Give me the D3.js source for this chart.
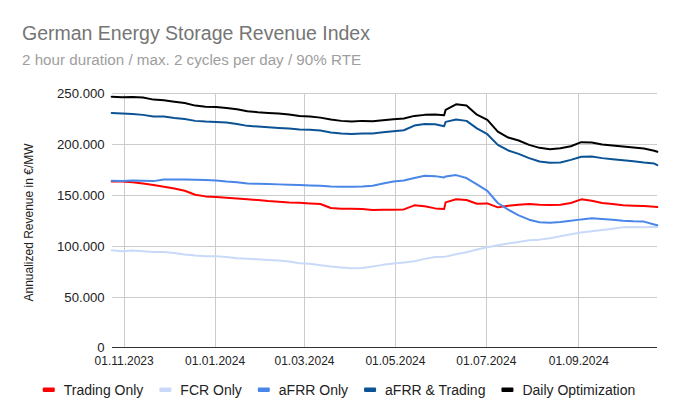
<!DOCTYPE html>
<html>
<head>
<meta charset="utf-8">
<script src="https://cdn.jsdelivr.net/npm/d3@7"></script>
<style>
  html, body { margin: 0; padding: 0; background: #fff; }
  svg { display: block; font-family: "Liberation Sans", Arial, sans-serif; }
</style>
</head>
<body>
<svg id="chart" width="678" height="419"></svg>
<script>
const dates = ["2023-10-24","2023-10-31","2023-11-07","2023-11-14","2023-11-21","2023-11-28","2023-12-05","2023-12-12","2023-12-19","2023-12-26",
"2024-01-02","2024-01-09","2024-01-16","2024-01-23","2024-01-30","2024-02-06","2024-02-13","2024-02-20","2024-02-27","2024-03-05",
"2024-03-12","2024-03-19","2024-03-26","2024-04-02","2024-04-09","2024-04-16","2024-04-23","2024-04-30","2024-05-07","2024-05-14",
"2024-05-21","2024-05-28","2024-06-03","2024-06-04","2024-06-11","2024-06-18","2024-06-25","2024-07-02","2024-07-09","2024-07-16",
"2024-07-23","2024-07-30","2024-08-06","2024-08-13","2024-08-20","2024-08-27","2024-09-03","2024-09-10","2024-09-17","2024-09-24",
"2024-10-01","2024-10-08","2024-10-15","2024-10-22","2024-10-24"];

// values in thousand €/MW
const tradingOnly = [163.4,163.4,162.7,161.4,159.8,158.2,156.5,154.2,150.3,148.7,
148.0,147.4,146.7,145.8,145.1,144.1,143.5,142.8,142.5,141.8,
141.2,137.3,136.6,136.6,136.3,135.3,135.6,135.6,135.9,139.9,
138.9,136.9,136.3,142.8,145.8,145.1,141.5,141.8,137.9,139.5,
140.5,141.2,140.5,140.2,140.5,142.2,145.8,144.4,142.2,141.2,
139.9,139.5,139.2,138.5,138.2];

const fcrOnly = [95.8,94.8,95.4,94.8,94.1,94.1,93.1,91.5,90.5,89.9,
89.9,89.2,87.9,87.3,86.9,86.3,85.6,84.6,83.0,82.4,
81.0,79.7,78.8,78.1,78.4,79.7,81.4,82.7,83.7,85.0,
87.3,89.2,89.4,89.5,91.8,93.8,96.5,98.7,100.7,102.3,
103.9,105.6,106.2,107.5,109.5,111.4,113.1,114.4,115.7,117.0,
118.3,118.6,118.3,118.6,118.6];

const afrrOnly = [164.1,163.7,164.4,164.1,163.7,165.4,165.4,165.4,165.0,164.7,
164.4,163.4,162.7,161.4,161.1,160.8,160.5,160.1,159.8,159.5,
159.2,158.5,158.2,158.2,158.5,159.2,161.4,163.4,164.4,166.7,
169.0,168.6,167.3,168.3,169.6,166.7,160.5,154.2,142.2,135.6,
130.1,125.8,123.2,122.9,123.5,124.8,126.1,127.1,126.5,125.8,
124.8,124.2,123.9,121.0,120.3];

const afrrTrading = [230.7,230.1,229.7,228.8,227.1,227.1,225.8,224.8,222.9,222.2,
221.9,221.2,219.9,218.0,217.3,216.7,216.0,215.4,214.4,214.1,
213.4,211.4,210.5,210.1,210.5,210.5,211.8,212.7,213.7,218.3,
219.9,219.6,217.6,221.9,224.2,222.9,215.5,209.8,199.3,193.8,
190.5,186.3,183.0,181.7,182.0,184.6,187.6,187.9,186.3,185.3,
184.3,183.3,182.0,181.0,179.4];

const dailyOpt = [246.7,246.1,246.4,245.8,243.8,243.1,241.8,240.5,237.9,236.9,
236.6,235.6,234.3,232.4,231.4,230.7,230.1,229.1,227.8,227.1,
226.1,224.2,222.9,222.2,222.9,222.5,223.5,224.5,225.2,227.8,
228.8,229.1,228.4,233.7,239.2,237.9,229.0,223.9,212.4,206.5,
203.6,199.3,196.4,195.1,196.1,198.0,202.0,201.6,199.7,198.7,
197.7,196.7,195.8,193.5,192.5];

const seriesNames = ["Trading Only","FCR Only","aFRR Only","aFRR & Trading","Daily Optimization"];
const seriesValues = [tradingOnly, fcrOnly, afrrOnly, afrrTrading, dailyOpt];
const seriesColors = ["#ff0000","#c9daf8","#4a86e8","#0b5394","#000000"];

const xTickDates = ["2023-11-01","2024-01-01","2024-03-01","2024-05-01","2024-07-01","2024-09-01"];
const yTicks = [0,50,100,150,200,250];
const domainStart = "2023-10-24", domainEnd = "2024-10-24";

(function () {
const parse = d3.utcParse("%Y-%m-%d");
const fmtDate = d3.utcFormat("%d.%m.%Y");
const fmtY = v => v === 0 ? "0" : d3.format(",")(v * 1000).replace(/,/g, ".");

const svg = d3.select("#chart");
const pL = 111.7, pR = 657.3, pT = 93.3, pB = 347.7;

const x = d3.scaleUtc().domain([parse(domainStart), parse(domainEnd)]).range([pL, pR]);
const y = d3.scaleLinear().domain([0, 250]).range([pB, pT]);

// Title
svg.append("text").attr("x", 22).attr("y", 39.5)
  .attr("font-size", 19.5).attr("fill", "#757575").text("German Energy Storage Revenue Index");
svg.append("text").attr("x", 22).attr("y", 65)
  .attr("font-size", 15.2).attr("fill", "#9e9e9e").text("2 hour duration / max. 2 cycles per day / 90% RTE");

// Horizontal gridlines + y labels
const yAxis = d3.axisLeft(y).tickValues(yTicks).tickFormat(fmtY).tickSize(-(pR - pL)).tickPadding(7);
const yg = svg.append("g").attr("transform", `translate(${pL},0)`).call(yAxis);
yg.select(".domain").remove();
yg.selectAll(".tick line").attr("stroke", "#cccccc").attr("stroke-width", 1)
  .attr("shape-rendering", "crispEdges");
yg.selectAll(".tick text").attr("font-size", 13.2).attr("fill", "#222")
  .attr("font-family", "'Liberation Sans', Arial, sans-serif");
yg.selectAll(".tick").filter(d => d === 0).select("line").remove();
yg.selectAll(".tick").filter(d => d === 0).select("text").attr("dy", "0.25em");

// Vertical gridlines + x labels
const xAxis = d3.axisBottom(x).tickValues(xTickDates.map(parse)).tickFormat(fmtDate)
  .tickSize(-(pB - pT)).tickPadding(9);
const xg = svg.append("g").attr("transform", `translate(0,${pB})`).call(xAxis);
xg.select(".domain").remove();
xg.selectAll(".tick line").attr("stroke", "#cccccc").attr("stroke-width", 1)
  .attr("shape-rendering", "crispEdges");
xg.selectAll(".tick text").attr("font-size", 12).attr("fill", "#222")
  .attr("font-family", "'Liberation Sans', Arial, sans-serif");

// baseline axis
svg.append("line").attr("x1", pL).attr("x2", pR).attr("y1", y(0)).attr("y2", y(0))
  .attr("stroke", "#333").attr("stroke-width", 1).attr("shape-rendering", "crispEdges");

// Y axis title
svg.append("text").attr("transform", `translate(32.5,${(pT + pB) / 2 + 2}) rotate(-90)`)
  .attr("text-anchor", "middle").attr("font-size", 12).attr("fill", "#222")
  .text("Annualized Revenue in €/MW");

// Lines
const line = d3.line().x(d => x(d.date)).y(d => y(d.v));
const parsedDates = dates.map(parse);
seriesValues.forEach((vals, i) => {
  const data = vals.map((v, j) => ({ date: parsedDates[j], v }));
  svg.append("path").datum(data).attr("d", line)
    .attr("fill", "none").attr("stroke", seriesColors[i]).attr("stroke-width", 2)
    .attr("stroke-linejoin", "round").attr("stroke-linecap", "round");
});

// Legend
const lg = svg.append("g");
const markerW = 12, markerGap = 9, itemGap = 16, legendY = 390;
const items = seriesNames.map((name, i) => {
  const g = lg.append("g");
  g.append("rect").attr("x", 0).attr("y", legendY - 2.5).attr("width", markerW).attr("height", 4.5)
    .attr("rx", 1).attr("fill", seriesColors[i]);
  const t = g.append("text").attr("x", markerW + markerGap).attr("y", legendY + 5)
    .attr("font-size", 14).attr("fill", "#222").text(name);
  return { g, w: markerW + markerGap + t.node().getComputedTextLength() };
});
const total = d3.sum(items, d => d.w) + itemGap * (items.length - 1);
let cx = 339 - total / 2;
items.forEach(it => { it.g.attr("transform", `translate(${cx},0)`); cx += it.w + itemGap; });
})();
</script>
</body>
</html>
